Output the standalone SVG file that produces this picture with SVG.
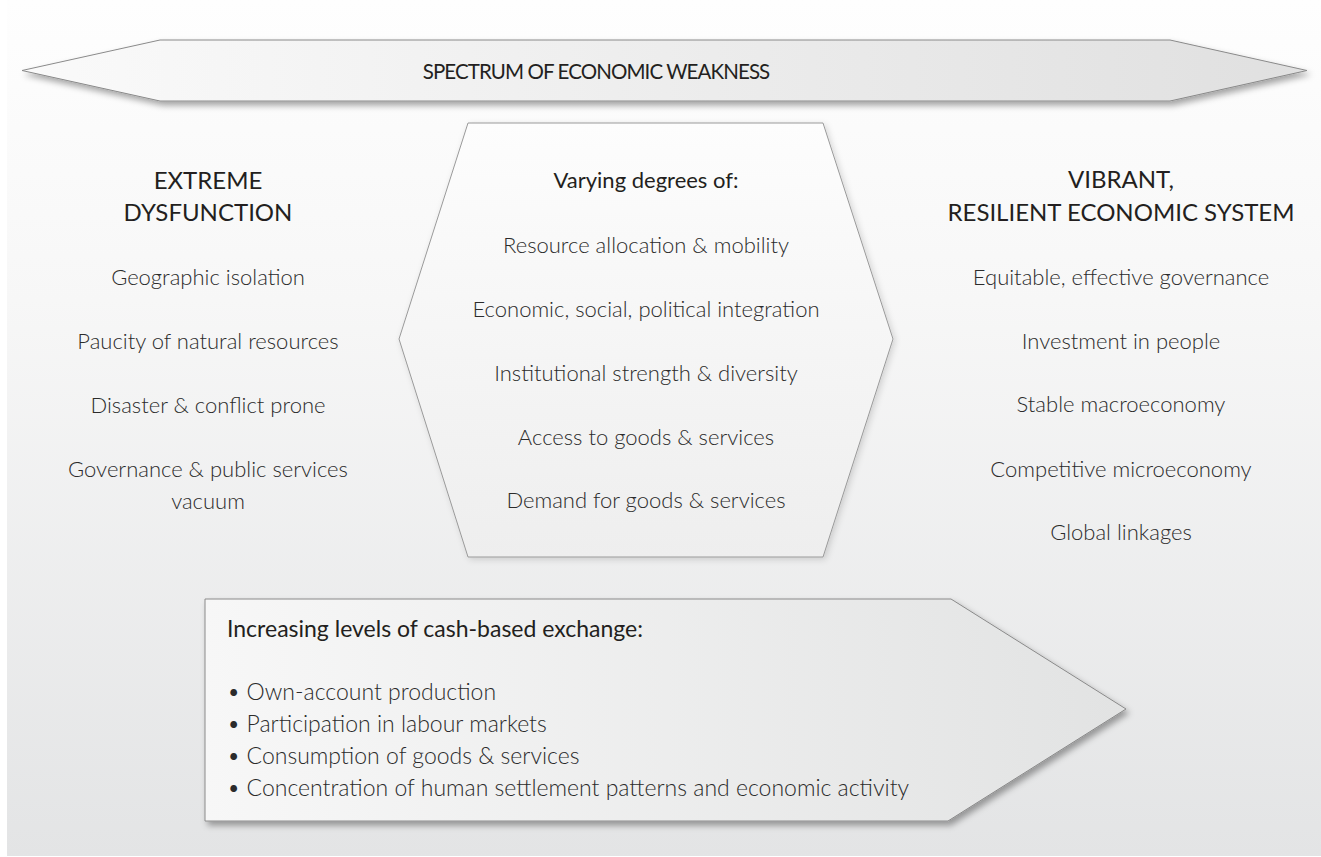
<svg xmlns="http://www.w3.org/2000/svg" width="1321" height="857" viewBox="0 0 1321 857">
<defs>
<linearGradient id="bg" x1="0" y1="0" x2="0" y2="1">
<stop offset="0" stop-color="#fefefe"/>
<stop offset="0.35" stop-color="#f7f7f7"/>
<stop offset="1" stop-color="#e3e4e5"/>
</linearGradient>
<linearGradient id="hgrad" x1="0" y1="0" x2="1" y2="0">
<stop offset="0" stop-color="#fafafa"/>
<stop offset="1" stop-color="#e0e0e0"/>
</linearGradient>
<linearGradient id="lgrad" x1="0" y1="0" x2="1" y2="0">
<stop offset="0" stop-color="#f7f7f7"/>
<stop offset="1" stop-color="#e2e3e3"/>
</linearGradient>
<linearGradient id="vgrad" x1="0" y1="0" x2="0" y2="1">
<stop offset="0" stop-color="#fdfdfd"/>
<stop offset="1" stop-color="#eeeeee"/>
</linearGradient>
<filter id="sh" x="-10%" y="-20%" width="120%" height="150%">
<feDropShadow dx="3" dy="4" stdDeviation="3" flood-color="#000" flood-opacity="0.35"/>
</filter>
<filter id="sh2" x="-10%" y="-10%" width="120%" height="120%">
<feDropShadow dx="2" dy="2" stdDeviation="3" flood-color="#000" flood-opacity="0.15"/>
</filter>
</defs>
<style>
text{font-family:Lato,"Liberation Sans",sans-serif;fill:#231f20}
.h{font-size:24px;font-weight:400;text-anchor:middle}
.i{font-size:22px;font-weight:300;text-anchor:middle;fill:#2b2b2b}
.b{font-size:23px;font-weight:300;fill:#2b2b2b}
.sh{stroke:#8a8a8a;stroke-width:1}
</style>
<rect x="0" y="0" width="1321" height="857" fill="#ffffff"/>
<rect x="7" y="0" width="1314" height="856" fill="url(#bg)"/>

<g id="spectrum">
<polygon class="sh" points="22,70.5 160,40 1170,40 1307,70.5 1170,101 160,101" fill="url(#hgrad)" filter="url(#sh)"/>
<text class="h" x="596" y="79" style="font-size:20.5px;letter-spacing:-0.9px">SPECTRUM OF ECONOMIC WEAKNESS</text>
</g>

<g id="varying">
<polygon points="468,123 823,123 893,339 823,557 468,557 399,339" fill="url(#vgrad)" stroke="#9a9a9a" stroke-width="1" filter="url(#sh2)"/>
<text class="h" x="646" y="188" style="font-size:22px">Varying degrees of:</text>
<text class="i" x="646" y="253">Resource allocation &amp; mobility</text>
<text class="i" x="646" y="317">Economic, social, political integration</text>
<text class="i" x="646" y="381">Institutional strength &amp; diversity</text>
<text class="i" x="646" y="445">Access to goods &amp; services</text>
<text class="i" x="646" y="508">Demand for goods &amp; services</text>
</g>

<g id="dysfunction">
<text class="h" x="208" y="189">EXTREME</text>
<text class="h" x="208" y="221">DYSFUNCTION</text>
<text class="i" x="208" y="285">Geographic isolation</text>
<text class="i" x="208" y="349">Paucity of natural resources</text>
<text class="i" x="208" y="413">Disaster &amp; conflict prone</text>
<text class="i" x="208" y="477">Governance &amp; public services</text>
<text class="i" x="208" y="509">vacuum</text>
</g>

<g id="vibrant">
<text class="h" x="1121" y="188">VIBRANT,</text>
<text class="h" x="1121" y="221">RESILIENT ECONOMIC SYSTEM</text>
<text class="i" x="1121" y="285">Equitable, effective governance</text>
<text class="i" x="1121" y="349">Investment in people</text>
<text class="i" x="1121" y="412">Stable macroeconomy</text>
<text class="i" x="1121" y="477">Competitive microeconomy</text>
<text class="i" x="1121" y="540">Global linkages</text>
</g>

<g id="cash">
<polygon class="sh" points="205,599 951,599 1126,709 948,821 205,821" fill="url(#lgrad)" filter="url(#sh)"/>
<text class="b" x="227" y="637" style="font-weight:400;fill:#231f20">Increasing levels of cash-based exchange:</text>
<text class="b" x="227" y="700">• Own-account production</text>
<text class="b" x="227" y="732">• Participation in labour markets</text>
<text class="b" x="227" y="764">• Consumption of goods &amp; services</text>
<text class="b" x="227" y="796">• Concentration of human settlement patterns and economic activity</text>
</g>

<g id="connectors"></g>
</svg>
